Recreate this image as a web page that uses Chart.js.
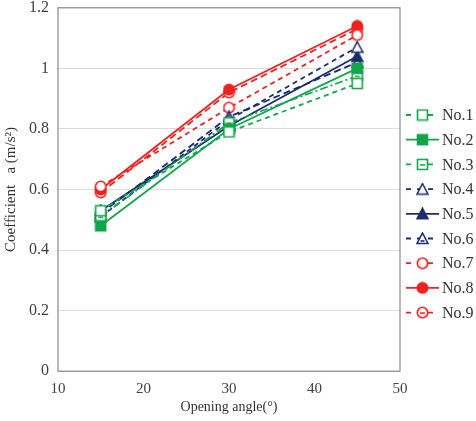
<!DOCTYPE html>
<html>
<head>
<meta charset="utf-8">
<script src="https://cdn.jsdelivr.net/npm/chart.js@4.4.0/dist/chart.umd.min.js"></script>
<style>
  html, body { margin: 0; padding: 0; background: #fff; }
  #wrap { width: 476px; height: 421px; }
</style>
</head>
<body>
<div id="wrap"><canvas id="c" width="476" height="421"></canvas></div>
<script>
"use strict";
const angles = [15, 30, 45];
const seriesNames = ['No.1', 'No.2', 'No.3', 'No.4', 'No.5', 'No.6', 'No.7', 'No.8', 'No.9'];
const no1 = [0.53, 0.79, 0.95];
const no2 = [0.48, 0.80, 1.00];
const no3 = [0.51, 0.82, 0.975];
const no4 = [0.51, 0.83, 1.07];
const no5 = [0.53, 0.81, 1.04];
const no6 = [0.52, 0.84, 1.02];
const no7 = [0.61, 0.87, 1.11];
const no8 = [0.60, 0.93, 1.14];
const no9 = [0.59, 0.92, 1.13];
const allValues = [no1, no2, no3, no4, no5, no6, no7, no8, no9];
const yTicks = [0, 0.2, 0.4, 0.6, 0.8, 1, 1.2];
const xTicks = [10, 20, 30, 40, 50];

const GREEN = '#12a54c', NAVY = '#1b2d6e', RED = '#ee2020';
const styles = [
    {color: GREEN, shape: 'rect', fill: false, inner: false, dash: [5, 4]},
    {color: GREEN, shape: 'rect', fill: true, inner: false, dash: []},
    {color: GREEN, shape: 'rect', fill: false, inner: true, dash: [8, 3, 2, 3]},
    {color: NAVY, shape: 'tri', fill: false, inner: false, dash: [5, 4]},
    {color: NAVY, shape: 'tri', fill: true, inner: false, dash: []},
    {color: NAVY, shape: 'tri', fill: false, inner: true, dash: [7, 4]},
    {color: RED, shape: 'circle', fill: false, inner: false, dash: [5, 4]},
    {color: RED, shape: 'circle', fill: true, inner: false, dash: []},
    {color: RED, shape: 'circle', fill: false, inner: true, dash: [7, 4]},
];

function makeMarker(st) {
    let cv = document.createElement('canvas');
    cv.width = 13; cv.height = 13;
    let c = cv.getContext('2d');
    c.strokeStyle = st.color;
    c.fillStyle = st.fill ? st.color : '#fff';
    c.lineWidth = 1.6;
    c.beginPath();
    if (st.shape == 'rect') {
        c.rect(1.5, 1.5, 10, 10);
    } else if (st.shape == 'tri') {
        c.moveTo(6.5, 1); c.lineTo(12, 11.5); c.lineTo(1, 11.5); c.closePath();
    } else {
        c.arc(6.5, 6.5, 5.2, 0, Math.PI * 2);
    }
    c.fill();
    c.stroke();
    if (st.inner) {
        c.beginPath();
        if (st.shape == 'tri') { c.moveTo(4.5, 9); c.lineTo(8.5, 9); }
        else { c.moveTo(4, 7); c.lineTo(9, 7); }
        c.stroke();
    }
    return cv;
}
const markers = styles.map(makeMarker);

const datasets = seriesNames.map((name, i) => ({
    label: name,
    data: angles.map((a, k) => ({x: a, y: allValues[i][k]})),
    borderColor: styles[i].color,
    backgroundColor: styles[i].color,
    borderWidth: 1.8,
    borderDash: styles[i].dash,
    pointStyle: markers[i],
    pointRadius: 6,
    fill: false,
    tension: 0,
}));

const frameAndLegend = {
    id: 'frameAndLegend',
    beforeDatasetsDraw(chart) {
        const {ctx, chartArea: a} = chart;
        ctx.save();
        ctx.strokeStyle = '#8a8a8a';
        ctx.lineWidth = 1.2;
        ctx.strokeRect(a.left, a.top, a.right - a.left, a.bottom - a.top);
        ctx.restore();
    },
    afterDraw(chart) {
        const ctx = chart.ctx;
        ctx.save();
        const x0 = 406, y0 = 115, step = 24.7;
        chart.data.datasets.forEach((ds, i) => {
            const y = y0 + i * step;
            ctx.strokeStyle = ds.borderColor;
            ctx.lineWidth = 1.8;
            ctx.setLineDash(ds.borderDash.length ? [5, 6] : []);
            ctx.beginPath();
            ctx.moveTo(x0, y); ctx.lineTo(x0 + 33, y);
            ctx.stroke();
            ctx.drawImage(markers[i], x0 + 10, y - 6.5);
            ctx.setLineDash([]);
            ctx.fillStyle = '#333';
            ctx.font = '16px "Liberation Serif"';
            ctx.textBaseline = 'middle';
            ctx.fillText(ds.label, x0 + 36, y + 1);
        });
        ctx.restore();
    }
};

new Chart(document.getElementById('c'), {
    type: 'line',
    data: {datasets: datasets},
    plugins: [frameAndLegend],
    options: {
        responsive: false,
        animation: false,
        layout: {padding: {left: 2, right: 76, top: 6, bottom: 1}},
        plugins: {legend: {display: false}, tooltip: {enabled: false}},
        scales: {
            x: {
                type: 'linear', min: 10, max: 50,
                afterBuildTicks: s => { s.ticks = xTicks.map(v => ({value: v})); },
                grid: {display: false},
                border: {display: false},
                ticks: {color: '#404040', font: {family: 'Liberation Serif', size: 15}, padding: 1},
                title: {display: true, text: 'Opening angle(°)', color: '#333',
                        font: {family: 'Liberation Serif', size: 14}, padding: {top: 0}}
            },
            y: {
                min: 0, max: 1.2,
                afterBuildTicks: s => { s.ticks = yTicks.map(v => ({value: v})); },
                afterFit: s => { s.paddingTop = 0; },
                grid: {color: '#dcdcdc', drawTicks: false, lineWidth: 1},
                border: {display: false},
                ticks: {color: '#404040', font: {family: 'Liberation Serif', size: 16}, padding: 9,
                        callback: v => String(v)},
                title: {display: true, text: 'Coefficient   a (m/s²)', color: '#333',
                        font: {family: 'Liberation Serif', size: 15}, padding: {top: 0, bottom: 0}}
            }
        }
    }
});
</script>
</body>
</html>
